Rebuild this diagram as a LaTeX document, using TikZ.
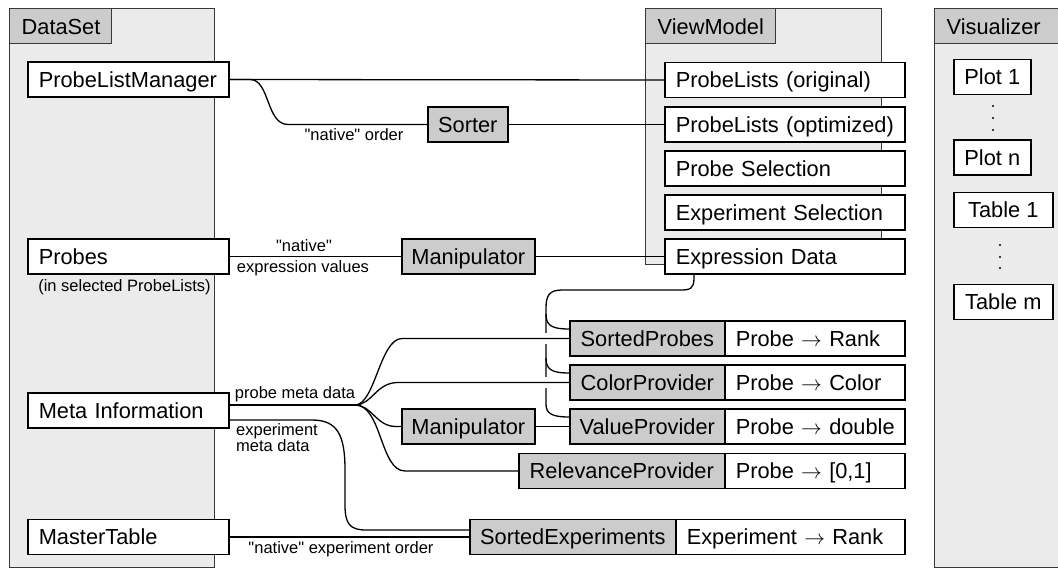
\documentclass[tikz,border=0pt]{standalone}
\usepackage{fontspec}
\setmainfont{Liberation Sans}[Ligatures=TeXOff]
\usetikzlibrary{calc}
\newcommand\bigfont{\fontsize{21.8}{26}\selectfont}
\newcommand\smallfont{\fontsize{16.5}{15}\selectfont}
\definecolor{panelgray}{HTML}{EBEBEB}
\definecolor{tabgray}{HTML}{CCCCCC}
\definecolor{edgegray}{HTML}{383838}

\begin{document}
\begin{tikzpicture}[x=1pt,y=-1pt,
  panelbox/.style={draw=edgegray, fill=panelgray, line width=1.3pt, anchor=north west, inner sep=0pt},
  oneline/.style={execute at begin node={\hbox\bgroup}, execute at end node={\egroup}},
  tabnode/.style={draw=edgegray, fill=tabgray, line width=1.3pt, anchor=north west,
    minimum height=35pt, inner ysep=0pt, inner xsep=12pt, font=\bigfont,
    text height=20pt, text depth=4.2pt, align=left, text width=#1, oneline},
  boxbase/.style={draw, line width=1.6pt, minimum height=35pt, inner ysep=0pt,
    font=\bigfont, text height=20pt, text depth=4.2pt, anchor=west},
  lbox/.style={boxbase, fill=white, align=left, inner xsep=11pt, text width=#1, oneline},
  cbox/.style={boxbase, fill=white, align=center, inner xsep=0pt, minimum width=#1},
  gbox/.style={boxbase, fill=tabgray, align=center, inner xsep=0pt, minimum width=#1},
  wire/.style={line width=1.3pt},
  lbltext/.style={font=\smallfont, inner sep=0pt},
  lbl/.style={lbltext, text height=12pt, text depth=3pt},
  gap/.style={fill=white},
]
\useasboundingbox (0,0) rectangle (1058,572);
\fill[white] (0,0) rectangle (1058,572);
\clip (0,0) rectangle (1058,572);

% ---------- DataSet ----------
\node[panelbox, minimum width=205pt, minimum height=559pt] (dataset) at (9,8) {};
\node[tabnode=78pt] (dstab) at (9,8) {DataSet};
\node[lbox=179pt] (plm)    at (27,79.5)  {ProbeListManager};
\node[lbox=179pt] (probes) at (27,256.5) {Probes};
\node[lbl] (probesnote) at (124.5,287) {(in selected ProbeLists)};
\node[lbox=179pt] (meta)   at (27,410.5) {Meta Information};
\node[lbox=179pt] (master) at (27,537)   {MasterTable};

% ---------- ViewModel ----------
\node[panelbox, minimum width=236pt, minimum height=256pt] (viewmodel) at (645,8) {};
\node[tabnode=106pt] (vmtab) at (645,8) {ViewModel};
\node[lbox=218pt] (plorig) at (664,80)    {ProbeLists (original)};
\node[lbox=218pt] (plopt)  at (664,124.5) {ProbeLists (optimized)};
\node[lbox=218pt] (psel)   at (664,168.5) {Probe Selection};
\node[lbox=218pt] (esel)   at (664,212.5) {Experiment Selection};
\node[lbox=218pt] (ed)     at (664,256.5) {Expression Data};

% ---------- Visualizer ----------
\node[panelbox, minimum width=200pt, minimum height=559pt] (visualizer) at (934,8) {};
\node[tabnode=160pt] (vistab) at (934,8) {Visualizer};
\node[cbox=77pt] (plot1)  at (953,77)    {Plot 1};
\node[cbox=77pt] (plotn)  at (953,157.5) {Plot n};
\node[cbox=99pt] (table1) at (953,210)   {Table 1};
\node[cbox=99pt] (tablem) at (953,302)   {Table m};
\foreach \yy in {106,118,130} \fill (993,\yy) circle (1.2pt);
\foreach \yy in {245,257,268} \fill (1000,\yy) circle (1.2pt);

% ---------- processing steps ----------
\node[gbox=80pt]  (sorter) at (427,124.5) {Sorter};
\node[gbox=133pt] (manip1) at (401,256.5) {Manipulator};
\node[gbox=133pt] (manip2) at (401,426.5) {Manipulator};

\node[gbox=155pt] (sp) at (569,338.5) {SortedProbes};
\node[lbox=158pt] (spmap) at (724,338.5) {Probe $\rightarrow$ Rank};
\node[gbox=155pt] (cp) at (569,382.5) {ColorProvider};
\node[lbox=158pt] (cpmap) at (724,382.5) {Probe $\rightarrow$ Color};
\node[gbox=155pt] (vp) at (569,426.5) {ValueProvider};
\node[lbox=158pt] (vpmap) at (724,426.5) {Probe $\rightarrow$ double};
\node[gbox=206pt] (rp) at (518,471) {RelevanceProvider};
\node[lbox=158pt] (rpmap) at (724,471) {Probe $\rightarrow$ [0,1]};
\node[gbox=206pt] (se) at (469,537) {SortedExperiments};
\node[lbox=207pt] (semap) at (675,537) {Experiment $\rightarrow$ Rank};

% ---------- connectors ----------
\draw[wire] (plm.east) -- (plorig.west);
\draw[wire] (plm.east) -- (250,79.5) .. controls (270,79.5) and (266,124.5) .. (288,124.5) -- (sorter.west);
\node[lbl] (lblorder) at (354,136) {"native" order};
\draw[wire] (sorter.east) -- (plopt.west);

\draw[wire] (probes.east) -- (manip1.west);
\node[lbl] (lblnative) at (304,247) {"native"};
\node[lbl] (lblexpr) at (303,268) {expression values};
\draw[wire] (manip1.east) -- (ed.west);

% expression data feeding the providers
\coordinate (edout) at ($(ed.south west)+(30,0)$);
\draw[wire] (edout) -- (694,278) .. controls (694,289) and (690,290) .. (680,290) -- (562,290)
  .. controls (549,290) and (546,296) .. (546,308) -- (546,404)
  .. controls (546,413) and (551,417) .. ($(vp.west)+(0,-9.5)$);
\draw[wire] (546,314) .. controls (546,325) and (551,329) .. ($(sp.west)+(0,-9.5)$);
\draw[wire] (546,358) .. controls (546,369) and (551,373) .. ($(cp.west)+(0,-9.5)$);
\fill[gap] (543,333) rectangle (549,344);
\fill[gap] (543,377) rectangle (549,388);

% meta information fan-out
\coordinate (pm) at ($(meta.east)+(0,-5.5)$);
\coordinate (em) at ($(meta.east)+(0,9.5)$);
\draw[wire] (pm) -- (355,405) .. controls (375,405) and (380,338.5) .. (402,338.5) -- (sp.west);
\draw[wire] (pm) -- (355,405) .. controls (372,405) and (376,382.5) .. (398,382.5) -- (cp.west);
\draw[wire] (pm) -- (355,405) .. controls (372,405) and (376,426.5) .. (396,426.5) -- (manip2.west);
\draw[wire] (pm) -- (355,405) .. controls (382,405) and (380,471) .. (405,471) -- (rp.west);
\node[lbl] (lblprobe) at (295,393.5) {probe meta data};
\draw[wire] (manip2.east) -- (vp.west);

\draw[wire] (em) -- (312,420) .. controls (338,420) and (345,436) .. (345,470) -- (345,505)
  .. controls (345,524) and (350,530) .. (366,530) -- ($(se.west)+(0,-7)$);
\node[lbltext, anchor=north west, align=left] (lblexp) at (236,423) {experiment\\meta data};

\draw[wire] (master.east) -- (se.west);
\node[lbl] (lblexporder) at (341,548.5) {"native" experiment order};
\end{tikzpicture}
\end{document}
